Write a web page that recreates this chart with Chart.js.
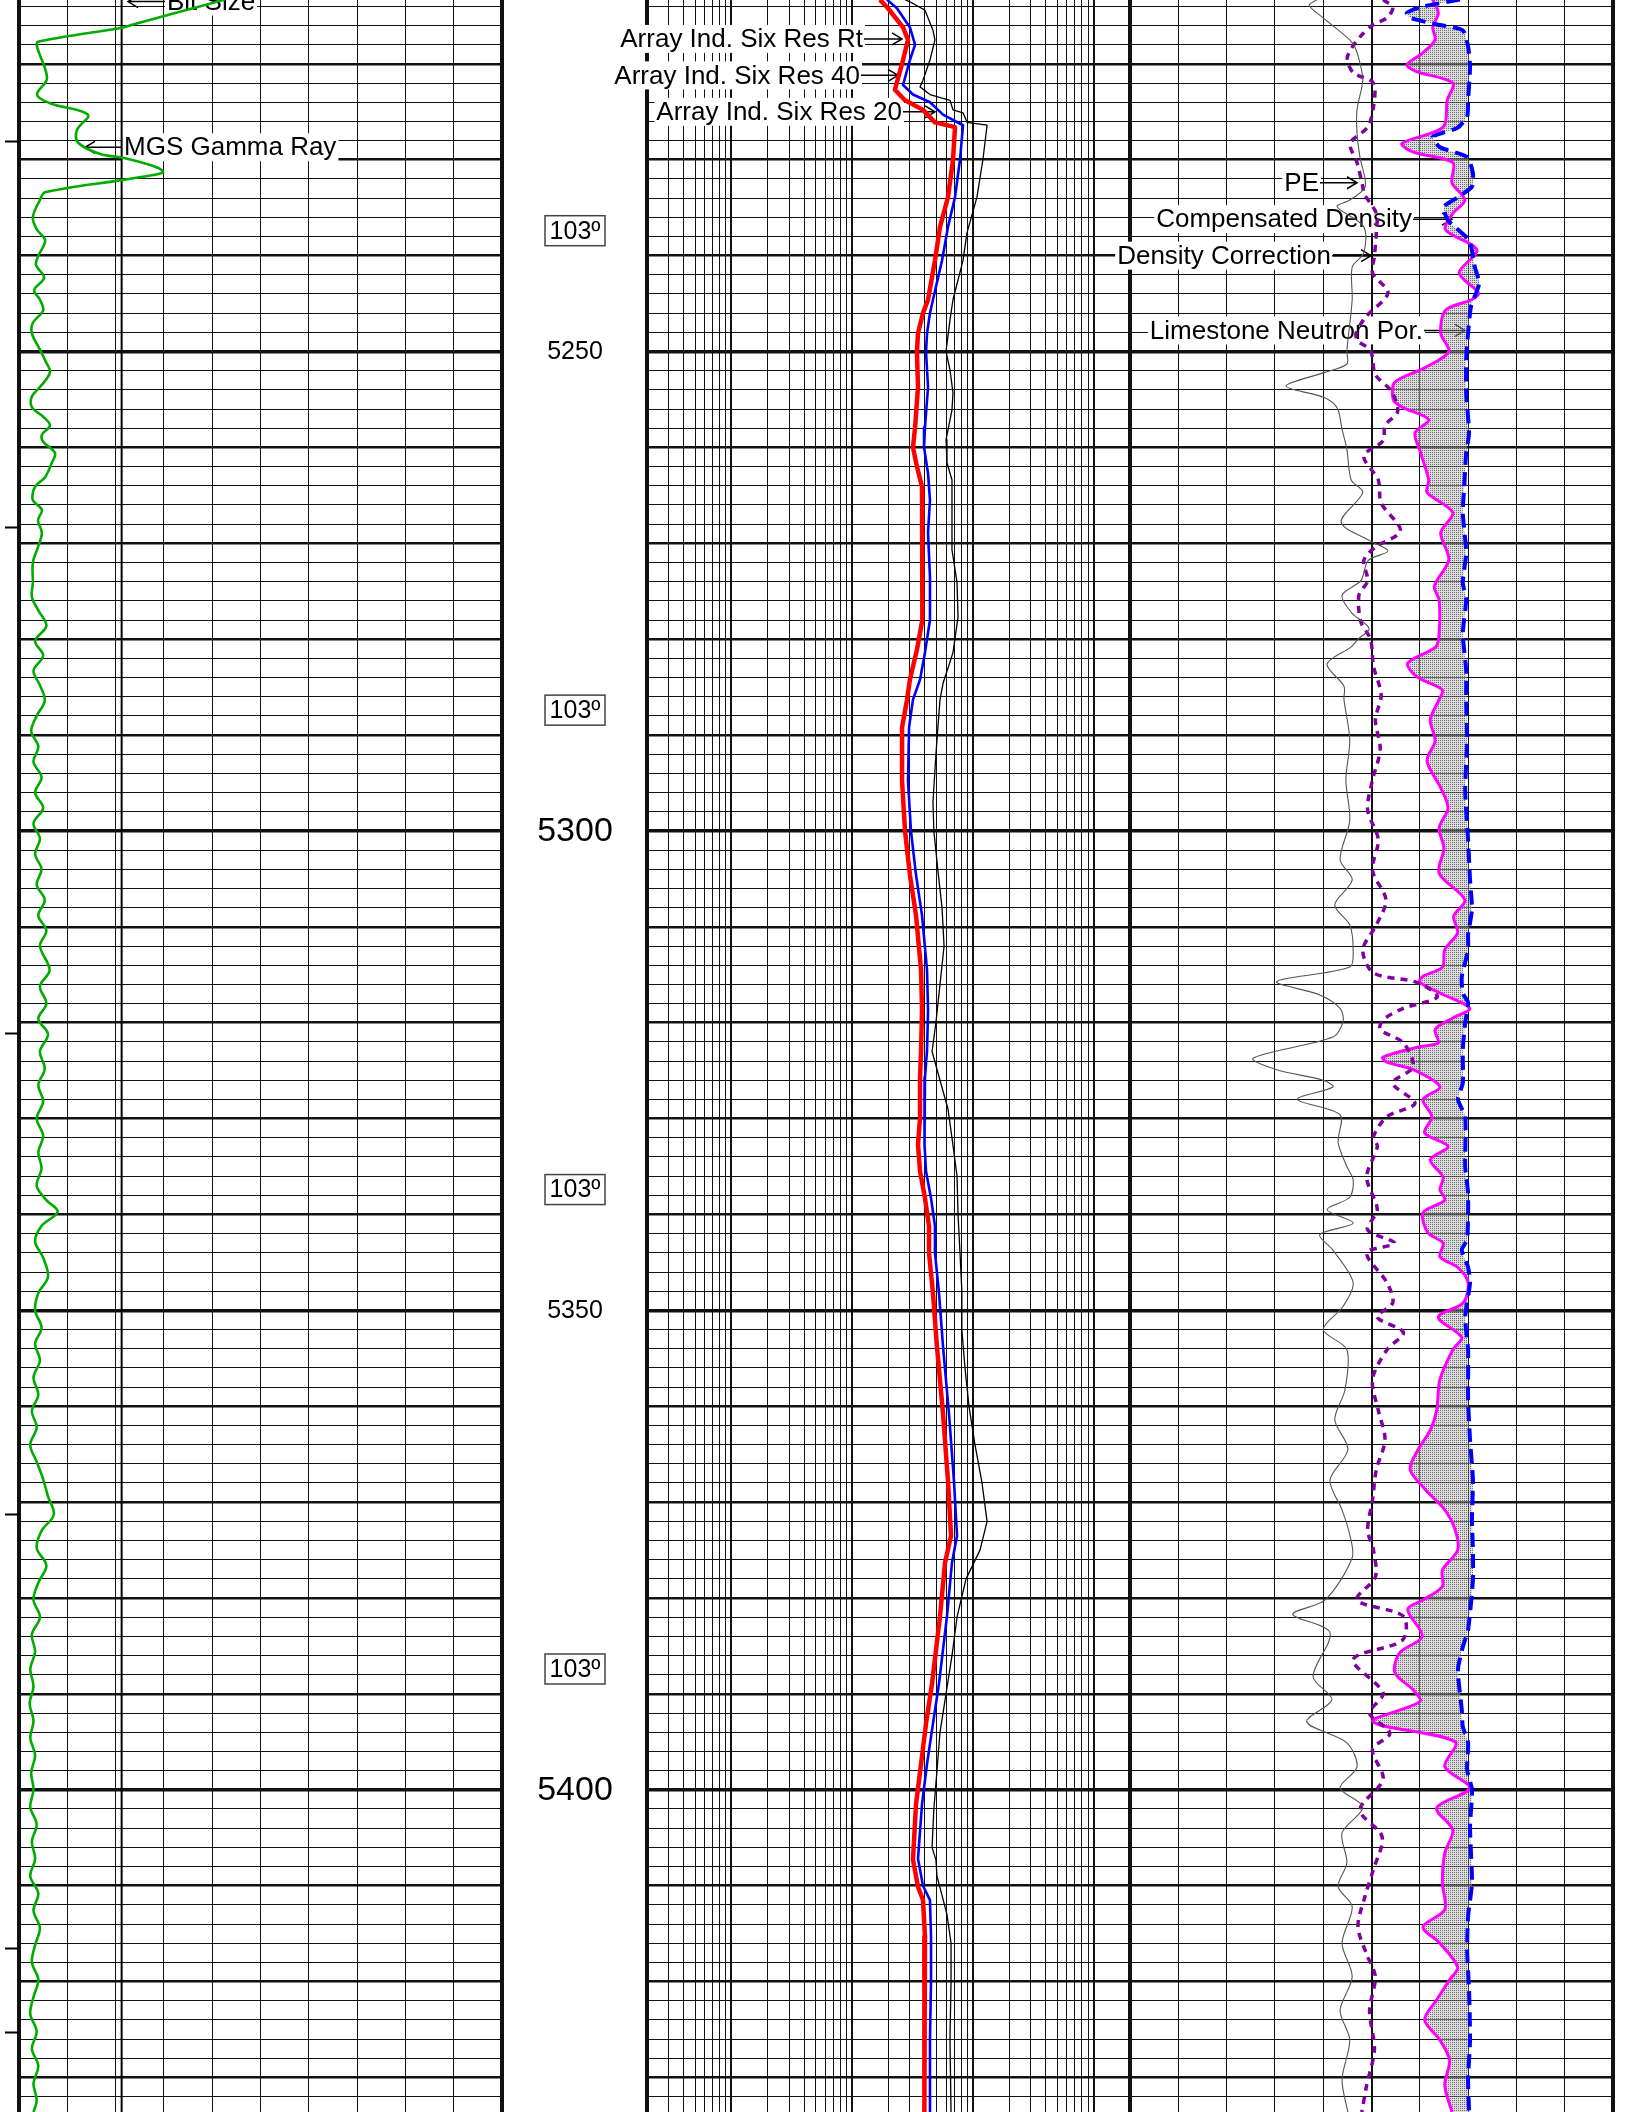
<!DOCTYPE html>
<html>
<head>
<meta charset="utf-8">
<script src="https://cdn.jsdelivr.net/npm/chart.js@4.4.1/dist/chart.umd.min.js"></script>
<style>
html,body{margin:0;padding:0;background:#fff;width:1632px;height:2112px;overflow:hidden;}
canvas{position:absolute;top:0;}
</style>
</head>
<body>
<canvas id="c1" width="506" height="2112" style="left:0px"></canvas>
<canvas id="c2" width="650" height="2112" style="left:490px"></canvas>
<canvas id="c3" width="542" height="2112" style="left:1090px"></canvas>
<script>
// ---------------- DATA ----------------
const depthTop = 5213.34, depthBottom = 5433.6;

// Track 1 : [depth, value]
const gammaRay = [
[5213.3,64.0],[5215.9,35.4],[5216.2,32.3],[5217.7,5.9],[5218.2,5.6],[5221.5,8.7],[5223.2,5.6],[5224.1,9.6],
[5225.3,21.4],[5226.9,18.0],[5228.2,18.3],[5229.4,25.2],[5229.8,32.3],[5230.8,42.9],[5231.3,44.7],[5231.6,41.6],
[5232.1,32.3],[5233.4,8.1],[5234.2,6.5],[5236.0,4.3],[5237.3,5.6],[5238.4,8.1],[5240.1,5.9],[5241.0,5.3],
[5242.3,7.8],[5243.6,4.7],[5244.6,6.5],[5245.7,7.5],[5247.0,4.3],[5248.1,4.0],[5249.8,6.5],[5250.9,8.1],
[5252.2,9.6],[5253.7,6.5],[5254.7,4.0],[5255.8,4.0],[5256.8,7.5],[5257.7,9.6],[5258.7,7.1],[5259.4,7.5],
[5260.6,11.2],[5261.6,10.2],[5263.1,8.1],[5264.1,5.0],[5265.5,4.3],[5266.5,7.1],[5267.6,5.9],[5268.9,7.1],
[5270.4,5.9],[5272.0,4.3],[5274.1,4.3],[5275.6,4.0],[5277.0,6.0],[5278.6,8.5],[5280.2,5.0],[5281.7,7.5],
[5283.3,4.5],[5284.8,6.5],[5286.4,8.0],[5288.0,5.5],[5289.6,3.8],[5291.2,6.0],[5292.8,4.5],[5294.4,7.0],
[5296.0,5.0],[5297.6,7.5],[5299.2,4.5],[5300.8,6.5],[5302.4,5.0],[5304.0,7.0],[5305.6,5.5],[5307.2,8.0],
[5308.8,6.0],[5310.4,8.5],[5312.0,6.5],[5314.5,9.5],[5316.2,6.5],[5318.0,8.5],[5319.6,6.0],[5321.2,9.0],
[5323.0,6.5],[5324.8,8.0],[5326.5,6.0],[5328.2,7.5],[5330.0,5.5],[5331.8,7.5],[5333.5,6.0],[5335.2,7.0],
[5337.0,5.5],[5338.5,8.5],[5339.7,12.0],[5341.2,7.0],[5342.8,5.0],[5344.5,7.5],[5346.5,9.0],[5348.2,6.0],
[5350.0,5.0],[5351.8,7.0],[5353.5,5.0],[5355.2,6.5],[5357.0,4.5],[5358.8,6.0],[5360.5,4.0],[5362.2,5.5],
[5364.0,3.5],[5365.8,5.5],[5367.6,7.5],[5369.4,9.0],[5371.3,10.8],[5373.0,7.0],[5374.8,5.5],[5376.6,8.5],
[5378.4,6.0],[5380.2,4.5],[5382.0,6.5],[5383.8,4.0],[5385.6,5.0],[5387.4,3.5],[5389.2,4.5],[5391.0,3.3],
[5392.8,4.5],[5394.6,3.5],[5396.4,5.0],[5398.2,3.8],[5400.0,4.5],[5401.8,3.5],[5403.6,5.5],[5405.4,4.0],
[5407.2,5.0],[5409.0,3.5],[5410.8,6.0],[5412.6,4.5],[5414.4,6.5],[5416.2,5.0],[5418.0,4.0],[5419.8,6.0],
[5421.6,4.5],[5423.4,3.5],[5425.2,5.5],[5427.0,4.0],[5428.8,6.0],[5430.6,4.5],[5432.4,5.5],[5433.6,4.5]
];
const bitSize = [[5213.3,8.125],[5433.6,8.125]];
const markerDepths = [5228.1, 5268.4, 5321.1, 5371.3, 5416.6, 5425.3];

// Track 2 : resistivity [depth, ohm.m]
const resRt = [
[5213.3,17.0],[5214.2,19.8],[5216.2,26.4],[5217.5,29.0],[5219.6,26.4],[5222.7,22.6],[5223.8,27.4],[5224.8,38.6],
[5226.1,48.5],[5226.6,71.1],[5230.0,68.4],[5233.9,62.2],[5237.0,53.4],[5240.5,48.5],[5244.6,42.5],[5246.0,38.6],
[5248.1,35.1],[5250.0,34.4],[5253.7,35.1],[5257.9,33.2],[5260.0,31.9],[5262.0,34.4],[5264.1,37.9],[5268.9,37.9],
[5273.5,38.6],[5278.0,37.9],[5281.1,34.4],[5284.2,30.1],[5286.3,28.5],[5289.2,25.9],[5294.8,25.9],[5300.0,27.4],
[5304.6,30.1],[5308.8,33.8],[5314.5,37.2],[5318.7,37.9],[5322.9,37.2],[5325.7,36.5],[5329.9,36.5],[5332.7,35.1],
[5335.5,36.5],[5338.3,40.1],[5341.2,43.3],[5344.0,43.3],[5348.2,46.7],[5353.8,50.4],[5360.8,56.6],[5367.8,62.2],
[5373.5,65.9],[5376.3,58.8],[5381.9,53.4],[5388.9,45.9],[5393.1,40.9],[5397.3,37.2],[5401.5,33.8],[5407.3,31.9],
[5410.1,35.1],[5411.5,38.6],[5415.3,40.1],[5419.8,40.1],[5426.0,39.4],[5433.6,39.4]
];
const res40 = [
[5213.3,19.4],[5214.2,23.5],[5216.2,30.1],[5218.0,33.2],[5219.6,30.1],[5222.2,26.4],[5223.2,31.9],[5224.0,44.1],
[5225.3,56.6],[5226.4,82.8],[5230.0,78.2],[5233.9,71.1],[5237.0,62.2],[5240.5,55.5],[5244.6,46.7],[5246.0,44.1],
[5248.1,41.7],[5250.0,40.9],[5253.7,42.5],[5257.9,40.1],[5260.0,39.4],[5262.7,42.5],[5265.5,44.1],[5268.9,42.5],
[5273.5,44.1],[5278.0,44.1],[5281.4,40.1],[5284.2,36.5],[5286.3,31.9],[5289.2,29.6],[5294.8,29.0],[5300.0,30.7],
[5304.6,33.8],[5308.8,37.9],[5314.5,41.7],[5318.7,42.5],[5322.9,41.7],[5325.7,40.1],[5329.9,40.1],[5332.7,39.4],
[5335.5,40.9],[5338.3,45.0],[5341.2,48.5],[5344.0,48.5],[5348.2,52.4],[5353.8,56.6],[5360.8,63.4],[5367.8,69.7],
[5373.5,73.9],[5376.3,67.1],[5381.9,61.0],[5388.9,52.4],[5393.1,46.7],[5397.3,41.7],[5401.5,37.9],[5407.2,35.1],
[5410.0,38.6],[5411.5,44.1],[5415.3,45.0],[5420.0,45.0],[5426.0,44.1],[5433.6,44.1]
];
const res20 = [
[5213.3,27.4],[5213.7,31.9],[5214.4,40.1],[5216.5,46.7],[5217.5,48.5],[5219.6,44.1],[5221.7,38.6],[5222.4,36.5],
[5223.2,44.1],[5223.8,64.6],[5224.8,68.4],[5225.1,82.8],[5226.1,89.4],[5226.4,131],[5230.0,121],[5233.9,108],
[5237.6,89.4],[5240.5,82.8],[5244.6,68.4],[5246.7,64.6],[5250.0,59.9],[5251.9,64.6],[5254.3,68.4],[5256.1,67.1],
[5259.2,59.9],[5261.6,61.0],[5263.4,67.1],[5270.7,67.1],[5274.1,73.9],[5277.7,75.3],[5281.4,68.4],[5284.6,56.6],
[5286.3,53.4],[5292.0,49.4],[5297.0,46.7],[5300.0,47.5],[5304.0,51.2],[5308.0,55.5],[5312.0,57.7],[5316.0,53.4],
[5320.0,49.4],[5323.0,45.9],[5326.0,53.4],[5329.0,62.2],[5332.0,67.1],[5336.0,73.9],[5340.0,75.3],[5344.0,78.2],
[5348.0,81.0],[5352.0,81.0],[5356.0,86.0],[5360.0,92.8],[5364.0,104],[5368.0,119],[5372.0,131],[5375.0,114.5],
[5378.0,87.7],[5382.0,73.9],[5386.0,67.1],[5390.0,59.9],[5394.0,53.4],[5398.0,50.4],[5402.0,47.5],[5406.0,45.9],
[5407.3,49.4],[5409.0,50.4],[5411.0,55.5],[5413.0,61.0],[5416.0,65.9],[5420.0,65.9],[5426.0,64.6],[5433.6,65.9]
];

// Track 3
const pe = [
[5213.3,3.87],[5213.9,3.71],[5215.2,4.00],[5217.5,4.55],[5218.3,4.66],[5219.9,4.76],[5221.7,4.82],[5224.8,4.70],
[5227.2,4.70],[5229.7,4.76],[5232.8,4.87],[5234.2,4.55],[5234.9,4.29],[5237.0,4.84],[5239.7,4.84],[5241.2,4.60],
[5244.6,4.60],[5249.9,4.49],[5251.3,4.49],[5252.2,4.02],[5253.6,3.23],[5254.8,4.02],[5255.9,4.29],[5258.1,4.39],
[5260.2,4.49],[5263.4,4.58],[5264.7,4.82],[5267.8,4.37],[5269.8,4.99],[5270.8,5.34],[5271.8,4.93],[5273.9,4.78],
[5275.4,4.39],[5277.2,4.58],[5278.9,4.95],[5280.0,4.72],[5280.8,4.58],[5282.6,4.08],[5284.9,4.43],[5286.3,4.43],
[5290.5,4.55],[5294.7,4.47],[5298.9,4.55],[5303.0,4.35],[5305.1,4.60],[5307.7,4.24],[5309.8,4.55],[5312.4,4.62],
[5314.2,4.55],[5315.7,3.04],[5317.1,3.93],[5318.5,4.35],[5319.9,4.41],[5321.5,4.20],[5323.7,2.55],[5324.9,3.04],
[5326.0,4.00],[5326.7,4.20],[5328.0,3.46],[5329.6,4.35],[5332.5,4.31],[5335.0,4.49],[5336.4,4.62],[5338.2,4.55],
[5339.5,4.08],[5340.9,4.62],[5342.1,3.93],[5343.7,4.20],[5347.1,4.62],[5349.6,4.41],[5352.0,4.00],[5354.1,4.49],
[5358.3,4.45],[5361.4,4.24],[5364.5,4.51],[5367.7,4.14],[5370.8,4.39],[5373.4,4.55],[5375.8,4.60],[5380.2,4.04],
[5381.7,3.37],[5383.6,4.14],[5388.2,3.79],[5390.6,4.18],[5392.9,3.66],[5395.1,4.49],[5397.6,4.70],[5399.8,4.35],
[5401.8,4.82],[5404.5,4.39],[5407.6,4.49],[5410.1,4.31],[5412.2,4.60],[5416.0,4.39],[5419.5,4.60],[5423.0,4.35],
[5426.1,4.55],[5430.2,4.39],[5433.6,4.51]
];
const densCorr = [
[5213.3,0.012],[5214.1,0.022],[5215.2,0.016],[5215.9,0.002],[5217.2,-0.012],[5219.3,-0.025],[5220.9,-0.019],[5222.0,0.002],
[5224.5,0.002],[5226.6,-0.004],[5228.3,-0.022],[5230.3,-0.015],[5232.8,-0.009],[5233.5,-0.008],[5235.6,0.005],[5237.6,0.005],
[5240.1,0.003],[5241.8,0.001],[5243.9,0.017],[5246.4,-0.006],[5248.1,-0.016],[5248.9,-0.014],[5249.9,-0.001],[5252.4,0.004],
[5254.2,0.021],[5256.3,0.027],[5257.7,0.014],[5259.3,0.012],[5260.9,-0.008],[5263.4,0.007],[5265.8,0.010],[5268.7,0.030],
[5270.4,0.004],[5271.8,-0.008],[5273.9,-0.004],[5275.4,-0.013],[5278.2,-0.011],[5280.0,-0.001],[5282.8,0.002],[5285.8,0.010],
[5288.4,0.004],[5291.5,0.009],[5294.7,0.001],[5297.8,-0.004],[5300.9,0.007],[5304.1,0.001],[5307.2,0.015],[5309.8,0.005],
[5312.4,-0.009],[5314.8,0.002],[5315.8,0.047],[5317.3,0.068],[5318.5,0.033],[5319.7,0.012],[5320.7,0.009],[5322.1,0.033],
[5324.6,0.043],[5326.3,0.022],[5328.4,0.045],[5329.8,0.016],[5331.9,0.002],[5332.9,0.006],[5336.1,-0.005],[5339.5,0.006],
[5341.6,-0.004],[5343.0,0.024],[5344.0,-0.005],[5347.1,0.016],[5349.2,0.022],[5350.7,0.006],[5352.3,0.033],[5354.1,0.016],
[5357.2,0.001],[5360.4,0.007],[5363.5,0.014],[5366.6,0.005],[5369.8,0.001],[5372.9,-0.004],[5375.0,0.002],[5377.8,0.004],
[5380.2,-0.015],[5381.9,0.033],[5384.4,0.032],[5386.4,-0.019],[5389.9,0.012],[5392.0,-0.002],[5394.1,0.019],[5395.8,0.001],
[5398.9,0.012],[5402.1,-0.012],[5404.9,0.011],[5408.3,0.002],[5411.2,-0.007],[5414.3,-0.014],[5417.4,-0.004],[5419.5,0.004],
[5423.0,-0.002],[5427.1,0.003],[5430.8,-0.005],[5433.6,-0.010]
];
const compDens = [
[5213.3,2.633],[5214.1,2.550],[5214.7,2.523],[5215.2,2.530],[5215.9,2.586],[5216.5,2.639],[5218.2,2.650],[5220.3,2.654],
[5223.8,2.650],[5225.5,2.648],[5226.7,2.627],[5227.6,2.577],[5228.7,2.592],[5229.7,2.648],[5231.4,2.660],[5232.8,2.658],
[5233.9,2.629],[5234.9,2.600],[5236.3,2.608],[5238.4,2.652],[5241.2,2.664],[5242.9,2.673],[5245.3,2.656],[5248.1,2.650],
[5250.9,2.646],[5254.3,2.646],[5258.5,2.652],[5260.6,2.646],[5264.1,2.642],[5266.8,2.639],[5271.0,2.646],[5274.1,2.639],
[5275.9,2.646],[5279.4,2.639],[5283.2,2.646],[5286.3,2.646],[5290.5,2.648],[5295.7,2.644],[5300.9,2.650],[5305.1,2.654],
[5308.2,2.658],[5310.8,2.650],[5312.4,2.650],[5315.2,2.637],[5316.9,2.639],[5317.9,2.650],[5320.0,2.644],[5322.8,2.639],
[5326.3,2.639],[5328.0,2.629],[5329.8,2.644],[5335.0,2.644],[5337.8,2.650],[5342.6,2.648],[5343.7,2.637],[5345.5,2.650],
[5347.1,2.654],[5350.7,2.644],[5354.1,2.650],[5359.3,2.650],[5363.5,2.654],[5367.7,2.660],[5371.8,2.658],[5375.0,2.660],
[5378.1,2.660],[5383.3,2.650],[5385.1,2.639],[5387.5,2.629],[5391.7,2.637],[5393.4,2.639],[5395.1,2.650],[5397.9,2.648],
[5400.0,2.658],[5403.9,2.654],[5409.7,2.658],[5413.2,2.650],[5416.7,2.648],[5420.9,2.652],[5426.1,2.654],[5430.2,2.650],
[5433.6,2.652]
];
const limeNeutron = [
[5213.3,0.074],[5214.7,0.067],[5216.2,0.074],[5217.5,0.071],[5218.9,0.087],[5220.1,0.106],[5220.8,0.094],[5222.0,0.049],
[5223.8,0.056],[5226.6,0.061],[5228.3,0.112],[5229.2,0.098],[5230.3,0.049],[5232.4,0.050],[5234.2,0.034],[5235.6,0.049],
[5237.3,0.058],[5239.4,0.019],[5241.8,0.041],[5243.9,0.017],[5244.6,0.026],[5245.7,0.058],[5248.1,0.064],[5250.0,0.054],
[5251.7,0.084],[5253.2,0.121],[5255.0,0.123],[5255.8,0.112],[5257.1,0.079],[5258.5,0.096],[5260.3,0.090],[5263.4,0.079],
[5264.7,0.081],[5266.8,0.049],[5268.9,0.064],[5271.7,0.054],[5274.5,0.072],[5275.9,0.066],[5279.4,0.066],[5280.8,0.070],
[5282.5,0.105],[5283.9,0.094],[5285.3,0.062],[5286.3,0.066],[5288.4,0.077],[5290.6,0.071],[5292.7,0.081],[5295.5,0.064],
[5297.6,0.055],[5299.7,0.066],[5301.8,0.060],[5304.4,0.066],[5307.2,0.034],[5308.9,0.048],[5310.6,0.043],[5312.4,0.059],
[5314.2,0.062],[5315.2,0.087],[5315.8,0.090],[5316.9,0.065],[5318.5,0.028],[5319.5,0.049],[5320.7,0.071],[5322.1,0.067],
[5322.5,0.090],[5323.6,0.136],[5324.1,0.131],[5324.9,0.098],[5326.7,0.065],[5328.0,0.086],[5329.8,0.075],[5331.5,0.084],
[5332.9,0.055],[5334.3,0.077],[5336.1,0.061],[5337.4,0.065],[5338.5,0.059],[5339.8,0.086],[5341.9,0.080],[5343.0,0.061],
[5344.4,0.065],[5345.5,0.043],[5347.1,0.030],[5349.2,0.036],[5350.7,0.067],[5352.8,0.038],[5354.1,0.049],[5357.2,0.065],
[5360.4,0.069],[5362.5,0.077],[5364.5,0.092],[5366.6,0.102],[5368.7,0.083],[5370.8,0.059],[5372.9,0.046],[5375.0,0.043],
[5377.1,0.062],[5378.8,0.062],[5380.2,0.086],[5381.2,0.105],[5384.0,0.087],[5385.7,0.115],[5387.8,0.121],[5389.6,0.098],
[5390.8,0.090],[5392.9,0.148],[5395.0,0.046],[5397.6,0.059],[5399.8,0.028],[5401.9,0.069],[5404.2,0.049],[5406.6,0.059],
[5409.7,0.062],[5412.5,0.059],[5414.3,0.086],[5416.0,0.065],[5418.5,0.043],[5419.8,0.053],[5421.9,0.069],[5424.0,0.084],
[5426.1,0.065],[5428.2,0.053],[5430.8,0.059],[5433.6,0.050]
];

// Depth track text
const depthLabels = [5250, 5300, 5350, 5400];
const tempDepths = [5237.4, 5287.4, 5337.4, 5387.4];
const tempText = '103º';

// Grid tick lists
const depthGrid = []; for (let d = 5214; d <= 5432; d += 2) depthGrid.push(d);
const grTicks = [0,15,30,45,60,75,90,105,120,135,150];
const resTicks = [];
[0.1,1,10,100,1000].forEach(dec => { for (let m = 1; m <= 9; m++) { const v = +(m*dec).toPrecision(3); if (v >= 0.2 && v <= 2000) resTicks.push(v); } });
const t3Ticks = [0,1,2,3,4,5,6,7,8,9,10];

// ---------------- HELPERS ----------------
Chart.defaults.font.family = '"Liberation Sans", Arial, sans-serif';
const pts = arr => arr.map(([d, v]) => ({x: v, y: d}));
const FONT = '"Liberation Sans", Arial, sans-serif';

function yGrid(width) {
  return {
    type: 'linear', position: 'left', reverse: true, min: depthTop, max: depthBottom,
    afterBuildTicks: s => { s.ticks = depthGrid.map(v => ({value: v})); },
    afterFit: s => { s.width = width; },
    ticks: {display: false}, border: {display: false},
    grid: {
      color: '#111', drawTicks: false,
      lineWidth: c => { const v = c.tick ? c.tick.value : 1; return v % 50 === 0 ? 3.5 : (v % 10 === 0 ? 2.5 : 1); }
    }
  };
}
function xGrid(type, min, max, ticks, widthFn) {
  return {
    type, position: 'bottom', min, max,
    afterBuildTicks: s => { s.ticks = ticks.map(v => ({value: v})); },
    afterFit: s => { s.height = 0; },
    ticks: {display: false}, border: {display: false},
    grid: {color: '#111', drawTicks: false, lineWidth: widthFn}
  };
}
function hidden(min, max, reverse) {
  return {type: 'linear', display: false, min, max, reverse: !!reverse};
}
function line(data, xAxisID, color, width, extra) {
  return Object.assign({data: pts(data), xAxisID, yAxisID: 'y', borderColor: color, borderWidth: width,
    pointRadius: 0, pointHoverRadius: 0, tension: 0, fill: false, borderJoinStyle: 'round'}, extra || {});
}

const annotPlugin = {
  id: 'logAnnot',
  beforeDatasetsDraw(chart, args, opts) {
    const ctx = chart.ctx, y = chart.scales.y, off = opts.offset || 0;
    ctx.save();
    ctx.textBaseline = 'middle';
    (opts.labels || []).forEach(L => {
      const yy = y.getPixelForValue(L.depth);
      ctx.font = '26px ' + FONT;
      const w = ctx.measureText(L.text).width;
      const right = L.tip > L.edge;
      const tx = right ? L.edge - off - w : L.edge - off;
      ctx.fillStyle = '#fff';
      ctx.fillRect(tx - 2, yy - 14, w + 4, 28);
      ctx.fillStyle = '#000';
      ctx.textAlign = 'left';
      ctx.fillText(L.text, tx, yy + 1);
      const from = right ? tx + w + 1 : tx - 2;
      const tip = L.tip - off, dir = right ? 1 : -1;
      ctx.strokeStyle = '#000'; ctx.lineWidth = 1.5;
      ctx.beginPath();
      ctx.moveTo(from, yy); ctx.lineTo(tip, yy);
      ctx.moveTo(tip - dir * 10, yy - 6); ctx.lineTo(tip, yy); ctx.lineTo(tip - dir * 10, yy + 6);
      ctx.stroke();
    });
    if (opts.depthTrack) {
      const cx = opts.depthTrack - off;
      ctx.textAlign = 'center';
      depthLabels.forEach(d => {
        const yy = y.getPixelForValue(d);
        ctx.font = (d % 100 === 0 ? '34px ' : '25px ') + FONT;
        ctx.fillStyle = '#000';
        ctx.fillText(String(d), cx, yy + 1);
      });
      tempDepths.forEach(d => {
        const yy = y.getPixelForValue(d);
        ctx.fillStyle = '#fff';
        ctx.fillRect(cx - 30, yy - 15, 60, 30);
        ctx.strokeStyle = '#444'; ctx.lineWidth = 1.5;
        ctx.strokeRect(cx - 30, yy - 15, 60, 30);
        ctx.font = '25px ' + FONT;
        ctx.fillStyle = '#000';
        ctx.fillText(tempText, cx, yy + 1);
      });
    }
    ctx.restore();
  }
};

function baseOptions(padRight, scales, annot) {
  return {
    indexAxis: 'y', responsive: false, animation: false, devicePixelRatio: 1, events: [],
    layout: {padding: {left: 0, right: padRight, top: 0, bottom: 0}},
    plugins: {legend: {display: false}, tooltip: {enabled: false}, logAnnot: annot},
    scales
  };
}

// stipple pattern for neutron-density crossover
function stipple() {
  const c = document.createElement('canvas'); c.width = 2; c.height = 2;
  const g = c.getContext('2d');
  g.fillStyle = 'rgba(185,185,185,0.5)'; g.fillRect(0, 0, 2, 2);
  g.fillStyle = 'rgba(0,0,0,0.5)'; g.fillRect(0, 0, 1, 1);
  return g.createPattern(c, 'repeat');
}

// ---------------- TRACK 1 ----------------
new Chart(document.getElementById('c1'), {
  type: 'line',
  plugins: [annotPlugin],
  data: {datasets: [
    line(gammaRay, 'x', '#00ac00', 2.6, {tension: 0.35}),
    line(bitSize, 'xBit', '#000', 2)
  ]},
  options: baseOptions(4, {
    x: xGrid('linear', 0, 150, grTicks, c => (c.index === 0 || c.index === grTicks.length - 1) ? 4 : 1),
    xBit: hidden(6, 16),
    y: yGrid(0),
    yMarks: {
      type: 'linear', position: 'left', reverse: true, min: depthTop, max: depthBottom,
      afterBuildTicks: s => { s.ticks = markerDepths.map(v => ({value: v})); },
      afterFit: s => { s.width = 19; },
      ticks: {display: false}, border: {display: false},
      grid: {drawOnChartArea: false, drawTicks: true, tickLength: 14, tickWidth: 2, tickColor: '#000'}
    }
  }, {offset: 0, labels: [
    {text: 'Bit Size', depth: 5213.5, edge: 167, tip: 128},
    {text: 'MGS Gamma Ray', depth: 5228.7, edge: 124, tip: 85}
  ]})
});

// ---------------- TRACK 2 (with depth track) ----------------
new Chart(document.getElementById('c2'), {
  type: 'line',
  plugins: [annotPlugin],
  data: {datasets: [
    line(resRt, 'x', '#ff0000', 4.5),
    line(res40, 'x', '#0000ff', 2.6),
    line(res20, 'x', '#000000', 1.3)
  ]},
  options: baseOptions(10, {
    x: xGrid('logarithmic', 0.2, 2000, resTicks, c => {
      const v = c.tick ? c.tick.value : 1;
      if (v === 0.2 || v === 2000) return 4;
      const l = Math.log10(v);
      return Math.abs(l - Math.round(l)) < 1e-6 ? 2 : 1;
    }),
    y: yGrid(157)
  }, {offset: 490, depthTrack: 575, labels: [
    {text: 'Array Ind. Six Res Rt', depth: 5217.4, edge: 863, tip: 902},
    {text: 'Array Ind. Six Res 40', depth: 5221.2, edge: 860, tip: 898},
    {text: 'Array Ind. Six Res 20', depth: 5225.0, edge: 902, tip: 935}
  ]})
});

// ---------------- TRACK 3 ----------------
new Chart(document.getElementById('c3'), {
  type: 'line',
  plugins: [annotPlugin],
  data: {datasets: [
    line(pe, 'xPe', '#555555', 1.1, {tension: 0.3}),
    line(densCorr, 'xDrho', '#8000a0', 3.5, {borderDash: [7, 6], tension: 0.3}),
    line(compDens, 'xRhob', '#0000ff', 4, {borderDash: [14, 7], tension: 0.2}),
    line(limeNeutron, 'xNphi', '#ff00ff', 3, {fill: '-1', backgroundColor: stipple(), tension: 0.3})
  ]},
  options: baseOptions(19, {
    x: xGrid('linear', 0, 10, t3Ticks, c => (c.index === 0 || c.index === 10) ? 4 : (c.index === 5 ? 2 : 1)),
    xPe: hidden(0, 10),
    xDrho: hidden(-0.25, 0.25),
    xRhob: hidden(1.95, 2.95),
    xNphi: hidden(-0.15, 0.45, true),
    y: yGrid(40)
  }, {offset: 1090, labels: [
    {text: 'PE', depth: 5232.4, edge: 1319, tip: 1357},
    {text: 'Compensated Density', depth: 5236.2, edge: 1412, tip: 1452},
    {text: 'Density Correction', depth: 5240.0, edge: 1331, tip: 1371},
    {text: 'Limestone Neutron Por.', depth: 5247.8, edge: 1423, tip: 1465}
  ]})
});
</script>
</body>
</html>
